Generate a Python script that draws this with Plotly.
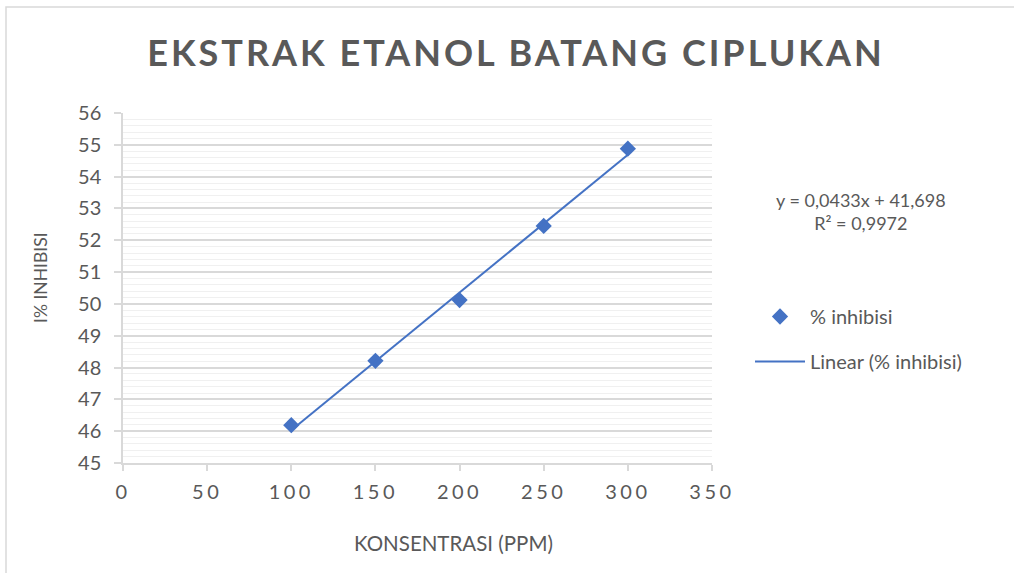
import plotly.graph_objects as go

konsentrasi = [100, 150, 200, 250, 300]
inhibisi = [46.19, 48.21, 50.12, 52.45, 54.88]
slope = 0.0433
intercept = 41.698
r2_text = "R² = 0,9972"
eq_text = "y = 0,0433x + 41,698"
x_ticks = [0, 50, 100, 150, 200, 250, 300, 350]
y_ticks = list(range(45, 57))

trend_x = [konsentrasi[0], konsentrasi[-1]]
trend_y = [slope * v + intercept for v in trend_x]

W, H = 1014, 573
L, R, T, B = 123, 712, 113, 463
grey = "#595959"
blue = "#4472C4"
FONT = "Lato"

fig = go.Figure()
fig.add_trace(go.Scatter(
    x=konsentrasi, y=inhibisi, mode="markers", name="% inhibisi",
    marker=dict(symbol="diamond", size=12.5, color=blue),
    legendgroup="a",
))
fig.add_trace(go.Scatter(
    x=trend_x, y=trend_y, mode="lines", name="Linear (% inhibisi)",
    line=dict(color=blue, width=2),
    legendgroup="b",
))

def px_x(p):
    return (p - L) / (R - L)

def px_y(p):
    return (B - p) / (B - T)

fig.update_layout(
    width=W, height=H,
    margin=dict(l=L, r=W - R, t=T, b=H - B, autoexpand=False),
    paper_bgcolor="white", plot_bgcolor="white",
    font=dict(family=FONT, color=grey),
    title=dict(
        text="EKSTRAK ETANOL BATANG CIPLUKAN",
        font=dict(family=FONT, size=36, color=grey, weight="bold"),
        x=px_x(516), xanchor="center", xref="paper",
        y=1 - 53 / H, yanchor="middle",
    ),
    xaxis=dict(
        range=[0, 350], tickvals=x_ticks, ticktext=[str(v) for v in x_ticks],
        showgrid=False, zeroline=False,
        showline=True, linecolor="#d9d9d9", linewidth=1.5,
        ticks="outside", ticklen=6, tickcolor="#d9d9d9", tickwidth=1.5,
        tickfont=dict(size=20, color=grey), ticklabelstandoff=4,
    ),
    yaxis=dict(
        range=[45, 56], tickvals=y_ticks,
        showgrid=True, gridcolor="#d9d9d9", gridwidth=1.5,
        zeroline=False,
        showline=True, linecolor="#d9d9d9", linewidth=1.5,
        ticks="outside", ticklen=7, tickcolor="#d9d9d9", tickwidth=1.5,
        tickfont=dict(size=20, color=grey), ticklabelstandoff=9,
        minor=dict(dtick=0.2, showgrid=True, gridcolor="#f0f0f0", gridwidth=1.2, ticks=""),
    ),
    legend=dict(
        x=px_x(750), y=px_y(297), xanchor="left", yanchor="top",
        font=dict(size=20, color=grey), tracegroupgap=16, itemwidth=50,
        bgcolor="rgba(0,0,0,0)",
    ),
    showlegend=True,
)

# axis titles
fig.add_annotation(
    text="KONSENTRASI (PPM)", xref="paper", yref="paper",
    x=px_x(453), y=px_y(543), xanchor="center", yanchor="middle",
    showarrow=False, font=dict(size=20.5, color=grey),
)
fig.add_annotation(
    text="I% INHIBISI", xref="paper", yref="paper", textangle=-90,
    x=px_x(40), y=px_y(278), xanchor="center", yanchor="middle",
    showarrow=False, font=dict(size=17.5, color=grey),
)

fig.add_annotation(
    text=eq_text + "<br>" + r2_text, xref="paper", yref="paper",
    x=px_x(861), y=px_y(211), xanchor="center", yanchor="middle",
    showarrow=False, font=dict(size=18, color=grey), align="center",
)

# chart border
fig.add_shape(type="rect", xref="paper", yref="paper",
              x0=px_x(6), x1=px_x(1030), y0=px_y(590), y1=px_y(7),
              line=dict(color="#d9d9d9", width=1.5), fillcolor="rgba(0,0,0,0)", layer="below")

post = """
document.body.style.margin='0';
var t=document.querySelectorAll('.gtitle'); t.forEach(function(e){e.style.letterSpacing='3px';});
var xt=document.querySelectorAll('.xtick text'); xt.forEach(function(e){e.style.letterSpacing='3.5px';});
"""
fig.write_html("out.html", post_script=post, config={"displayModeBar": False})
